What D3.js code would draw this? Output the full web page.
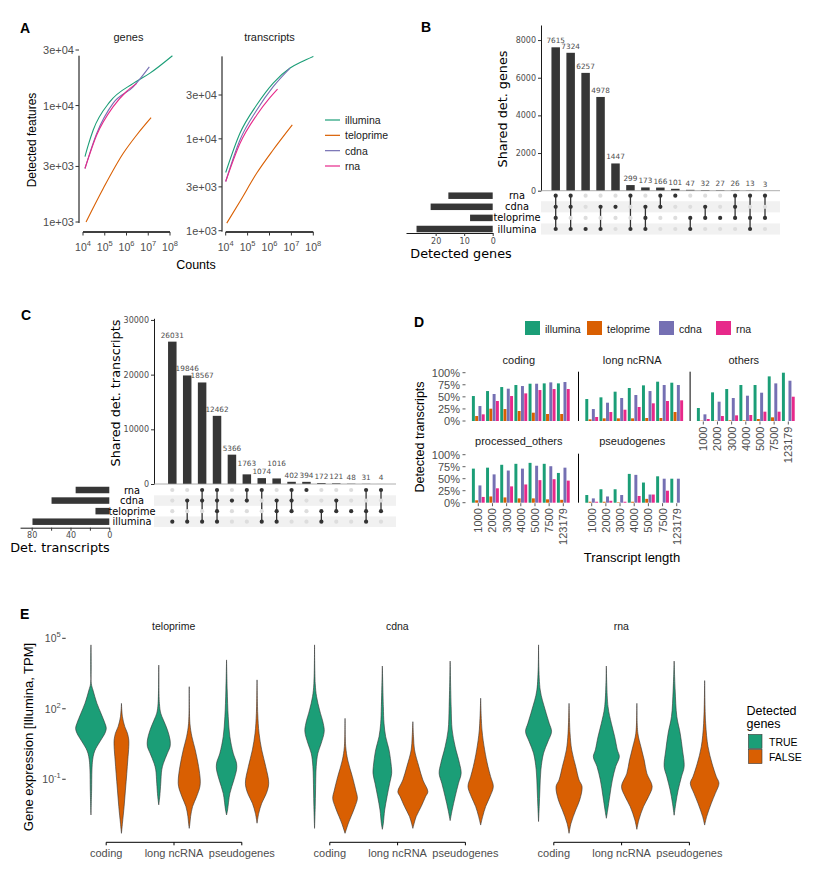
<!DOCTYPE html>
<html><head><meta charset="utf-8">
<script src="https://cdn.jsdelivr.net/npm/d3@7/dist/d3.min.js"></script>
<style>
html,body{margin:0;padding:0;background:#fff;}
svg{display:block;}
</style></head>
<body>
<svg id="fig" width="830" height="871" xmlns="http://www.w3.org/2000/svg"></svg>
<script>
// ================= DATA =================
const seriesNames = ["illumina", "teloprime", "cdna", "rna"];
const seriesColors = ["#1B9E77", "#D95F02", "#7570B3", "#E7298A"];

// Panel A: [counts, detected features]
const genesIllumina = [[1.23e4,3640],[1.74e4,4570],[2.95e4,6170],[1.74e5,10800],[2.04e6,15500],[1.2e7,19000],[1.29e8,26800]];
const genesTeloprime = [[1.38e4,1000],[8.5e4,1940],[7.1e5,3890],[2.95e6,5590],[1.35e7,7870]];
const genesCdna = [[1.23e4,2880],[4.27e4,5770],[2.45e5,10500],[2.04e6,14500],[1.12e7,21500]];
const genesRna = [[1.23e4,2880],[4.27e4,5590],[2.45e5,9800],[1.0e6,13200],[2.95e6,15500]];
const txIllumina = [[1e4,4300],[4.47e4,11500],[2.63e5,23500],[1.48e6,40500],[8.7e6,59000],[2.95e7,69000],[1e8,79000]];
const txTeloprime = [[1.12e4,1210],[4.47e4,2080],[2.63e5,4240],[1.48e6,7600],[1.1e7,14200]];
const txCdna = [[1e4,3430],[4.47e4,9700],[2.63e5,20600],[1.48e6,37000],[8.7e6,59000]];
const txRna = [[1e4,3430],[4.47e4,8900],[2.63e5,18200],[1e6,27700],[2.34e6,34800]];
const aYTicks = [1e3, 3e3, 1e4, 3e4];
const aYTickLabels = ["1e+03", "3e+03", "1e+04", "3e+04"];
const aXTicks = [1e4, 1e5, 1e6, 1e7, 1e8];
const aXTickExp = ["4", "5", "6", "7", "8"];

// Panels B & C: UpSet
const setNames = ["rna", "cdna", "teloprime", "illumina"];
const genesInterCounts = [7615,7324,6257,4978,1447,299,173,166,101,47,32,27,26,13,3];
const genesInterSets = [["rna","cdna","teloprime","illumina"],["rna","cdna","illumina"],["illumina"],["cdna","illumina"],["cdna"],["rna","illumina"],["cdna","teloprime","illumina"],["rna","cdna"],["rna"],["teloprime","illumina"],["cdna","teloprime"],["teloprime"],["rna","cdna","teloprime"],["rna","teloprime","illumina"],["rna","teloprime"]];
const txInterCounts = [26031,19846,18567,12462,5366,1763,1074,1016,402,394,172,121,48,31,4];
const txInterSets = [["illumina"],["cdna","illumina"],["rna","cdna","illumina"],["rna","cdna","teloprime","illumina"],["cdna"],["rna","cdna"],["rna","illumina"],["cdna","teloprime","illumina"],["rna","cdna","teloprime"],["rna"],["teloprime","illumina"],["cdna","teloprime"],["teloprime"],["rna","teloprime","illumina"],["rna","teloprime"]];
const genesYTicks = [0, 2000, 4000, 6000, 8000];
const txYTicks = [0, 10000, 20000, 30000];
const genesSetTicks = [0, 10, 20];
const txSetTicks = [0, 20, 40, 60, 80];
const txSetTickLabels = ["0", "", "40", "", "80"];

// Panel D: % detected transcripts by length bin (illumina, teloprime, cdna, rna)
const lengthBins = ["1000","2000","3000","4000","5000","7500","123179"];
const pctCoding = [[51.7,62,70.3,74.5,77.2,77.9,77.9],[10.3,25.5,24.8,20.7,17.2,14.5,14.5],[31,55.9,66.9,72.4,77.2,80,80.7],[13.8,41.4,51.7,57.2,64.1,66.2,66.2]];
const pctLncRNA = [[45.5,49,60.7,68.3,73.8,81.4,79.3],[3.4,5.5,5.5,5.5,6.2,6.2,18.6],[24.8,37.9,47.6,53.8,62,74.5,74.5],[8.3,18.6,23.4,29,36.6,41.4,42.8]];
const pctOthers = [[26.9,59.3,66.2,74.5,74.5,92.4,100],[0.7,0.7,1.4,1.4,4.1,7.6,0],[13.8,40,47.6,52.4,58.6,77.9,83.4],[4.1,10.3,11.7,12.4,19.3,19.3,50.3]];
const pctProcessed = [[71,73,79,81,83,81,62],[5,13,11,9,9,7,6],[36,59,67,71,77,76,73],[12,30,34,38,47,49,46]];
const pctPseudo = [[16,28,28,60,42,55,50],[2,2,1,2,8,0,0],[9,13,16,58,17,50,50],[2,4,2,14,17,25,0]];
const dYTicks = [0, 25, 50, 75, 100];

// Panel E: violin profiles [log10 TPM, density]; order: coding T/F, long ncRNA T/F, pseudogenes T/F
const eFacets = ["teloprime", "cdna", "rna"];
const eCats = ["coding", "long ncRNA", "pseudogenes"];
const detectedLevels = ["TRUE", "FALSE"];
const detectedColors = ["#1B9E77", "#D95F02"];
const teloViolins = [
  [[4.72,0],[3.08,1],[2.80,6],[2.23,18],[1.81,30],[1.38,42],[1.17,46],[0.96,42],[0.67,30],[0.32,15],[0.11,9],[-0.18,5],[-0.60,3],[-1.46,2],[-2.52,0]],
  [[2.23,0],[1.66,3],[1.24,10],[0.96,18],[0.67,22],[0.39,22],[-0.18,19],[-0.75,16],[-1.46,12],[-2.16,8],[-2.87,3],[-3.30,0]],
  [[3.86,0],[2.23,2],[1.81,6],[1.52,14],[1.10,26],[0.67,34],[0.39,34],[0.11,26],[-0.32,14],[-0.60,9],[-1.17,6],[-1.74,3],[-2.09,0]],
  [[2.94,0],[1.38,2],[0.81,8],[0.25,18],[-0.46,28],[-1.03,33],[-1.31,32],[-1.74,22],[-2.16,10],[-2.59,4],[-2.87,2],[-3.09,0]],
  [[4.08,0],[2.80,2],[1.67,5],[0.81,10],[0.11,20],[-0.32,30],[-0.60,30],[-1.03,22],[-1.60,10],[-2.31,3],[-2.52,0]],
  [[3.23,0],[1.81,2],[0.96,6],[0.25,14],[-0.46,26],[-1.17,35],[-1.60,28],[-2.02,14],[-2.45,5],[-2.87,0]]
];
const cdnaViolins = [
  [[4.72,0],[3.08,2],[2.52,6],[1.95,15],[1.38,26],[1.03,29],[0.53,20],[0.11,10],[-0.46,5],[-1.46,3],[-2.16,2],[-3.09,0]],
  [[1.59,0],[0.39,2],[-0.18,8],[-0.89,22],[-1.46,32],[-1.81,37],[-2.16,30],[-2.59,18],[-2.87,10],[-3.30,0]],
  [[3.82,0],[2.09,3],[1.38,5],[0.81,10],[0.25,20],[-0.46,27],[-0.75,28],[-1.17,22],[-1.74,14],[-2.31,7],[-2.87,3],[-3.13,0]],
  [[1.45,0],[0.81,2],[0.25,5],[-0.46,18],[-1.03,30],[-1.53,45],[-1.74,38],[-2.16,25],[-2.59,10],[-2.87,4],[-3.09,0]],
  [[4.03,0],[2.09,3],[1.10,6],[0.39,15],[-0.32,28],[-0.75,33],[-1.17,25],[-1.74,15],[-2.31,6],[-2.76,0]],
  [[2.45,0],[1.10,4],[0.25,12],[-0.46,22],[-0.89,30],[-1.31,38],[-1.74,28],[-2.16,15],[-2.59,6],[-2.95,0]]
];
const rnaViolins = [
  [[4.72,0],[2.80,5],[1.95,20],[1.38,32],[1.03,39],[0.60,28],[0.11,15],[-0.60,7],[-1.46,4],[-2.16,2],[-2.80,0]],
  [[2.23,0],[0.96,3],[0.25,8],[-0.46,20],[-1.03,30],[-1.31,39],[-1.88,32],[-2.31,20],[-2.87,6],[-3.30,0]],
  [[3.82,0],[2.09,5],[1.38,15],[0.81,25],[0.25,33],[-0.04,39],[-0.46,28],[-1.03,18],[-1.74,10],[-2.31,4],[-2.66,0]],
  [[2.23,0],[0.96,3],[0.39,12],[-0.18,22],[-0.75,30],[-1.31,46],[-1.74,35],[-2.16,20],[-2.73,6],[-3.13,0]],
  [[4.03,0],[2.80,3],[1.67,8],[0.96,18],[0.25,25],[-0.46,30],[-0.89,22],[-1.46,12],[-2.02,5],[-2.53,0]],
  [[3.20,0],[1.38,3],[0.39,10],[-0.32,22],[-0.89,35],[-1.17,43],[-1.60,32],[-2.02,20],[-2.59,6],[-2.95,0]]
];
const eYTicks = [1e5, 1e2, 1e-1];
const eYTickExp = ["5", "2", "-1"];

// ================= DRAWING =================
const svg = d3.select("#fig");
const SANS = "'Liberation Sans', Arial, Helvetica, sans-serif";
const DEJA = "'DejaVu Sans', Verdana, sans-serif";
const GREY = "#4D4D4D";
const color = d3.scaleOrdinal().domain(seriesNames).range(seriesColors);

function txt(g, x, y, s, o = {}) {
  const t = g.append("text").attr("x", x).attr("y", y).text(s)
    .attr("font-family", o.ff || SANS).attr("font-size", o.fs || 11)
    .attr("fill", o.fill || "#000").attr("text-anchor", o.anchor || "start");
  if (o.weight) t.attr("font-weight", o.weight);
  if (o.db) t.attr("dominant-baseline", o.db);
  if (o.rot) t.attr("transform", `rotate(${o.rot},${x},${y})`);
  return t;
}
function line(g, x1, y1, x2, y2, stroke = "#000", w = 1) {
  return g.append("line").attr("x1", x1).attr("y1", y1).attr("x2", x2).attr("y2", y2)
    .attr("stroke", stroke).attr("stroke-width", w);
}

// Panel letters
[["A",20,33],["B",421,32],["C",21,320],["D",414,327],["E",20,619]].forEach(([l,x,y]) =>
  txt(svg, x, y, l, {fs: 14, weight: "bold"}));

// ---------- Panel A ----------
function drawA(cfg) {
  const g = svg.append("g");
  const x = d3.scaleLog().domain([1e4, 1e8]).range(cfg.xr);
  const y = d3.scaleLog().domain([1e3, 3e4]).range(cfg.yr);
  const maxV = d3.max(cfg.series, s => d3.max(s[1], d => d[1]));
  line(g, cfg.yAxisX, y(maxV), cfg.yAxisX, y(1e3) + 1, "#000", 1);
  aYTicks.forEach((v, i) => {
    line(g, cfg.yAxisX - 3.5, y(v), cfg.yAxisX, y(v), "#333", 1);
    txt(g, cfg.yAxisX - 5, y(v), aYTickLabels[i], {fs: 11, fill: GREY, anchor: "end", db: "central"});
  });
  const axY = 232;
  line(g, x(1e4), axY, x(1e8), axY, "#000", 1.6);
  aXTicks.forEach((v, i) => {
    line(g, x(v), axY, x(v), axY + 3.5, "#333", 1);
    const t = txt(g, x(v), axY + 19, "10", {fs: 10.5, fill: GREY, anchor: "middle"});
    t.append("tspan").attr("dy", -5).attr("font-size", 7.5).text(aXTickExp[i]);
  });
  txt(g, cfg.titleX, 40.5, cfg.title, {fs: 11, fill: "#1A1A1A", anchor: "middle"});
  const gen = d3.line().x(d => x(d[0])).y(d => y(d[1])).curve(d3.curveMonotoneX);
  cfg.series.forEach(([name, data]) => {
    g.append("path").attr("d", gen(data)).attr("fill", "none")
      .attr("stroke", color(name)).attr("stroke-width", 1.1);
  });
}
drawA({xr: [83, 170], yr: [222, 50], yAxisX: 79, title: "genes", titleX: 128.5,
  series: [["illumina", genesIllumina], ["teloprime", genesTeloprime], ["cdna", genesCdna], ["rna", genesRna]]});
drawA({xr: [225.7, 313.3], yr: [230.7, 95], yAxisX: 222, title: "transcripts", titleX: 269.5,
  series: [["illumina", txIllumina], ["teloprime", txTeloprime], ["cdna", txCdna], ["rna", txRna]]});
txt(svg, 32, 140, "Detected features", {fs: 12, anchor: "middle", db: "central", rot: -90});
txt(svg, 196, 269, "Counts", {fs: 12.5, anchor: "middle"});
// legend A
const legA = d3.scalePoint().domain(seriesNames).range([120, 166]);
seriesNames.forEach(s => {
  line(svg, 325, legA(s), 340, legA(s), color(s), 1.2);
  txt(svg, 345, legA(s), s, {fs: 10.5, fill: "#1A1A1A", db: "central"});
});

// ---------- Panels B & C (UpSet) ----------
function upset(o) {
  const g = svg.append("g");
  const cx = d3.scalePoint().domain(d3.range(o.counts.length)).range(o.colRange);
  const y = d3.scaleLinear().domain(o.yDomain).range(o.yRange);
  const row = d3.scalePoint().domain(setNames).range(o.rowRange);
  const step = row.step();
  ["cdna", "illumina"].forEach(s => g.append("rect")
    .attr("x", o.matrixX[0]).attr("width", o.matrixX[1] - o.matrixX[0])
    .attr("y", row(s) - step / 2).attr("height", step).attr("fill", "#F1F1F1"));
  // intersection bars
  g.selectAll("rect.bar").data(o.counts).join("rect").attr("class", "bar")
    .attr("x", (d, i) => cx(i) - o.barW / 2).attr("width", o.barW)
    .attr("y", d => y(d)).attr("height", d => y(0) - y(d)).attr("fill", "#363636");
  // value labels, staggered when neighbours collide
  const lfs = 7.3, charW = lfs * 0.636, hgt = 5.2;
  const labs = o.counts.map((d, i) => ({v: d, x: cx(i), y: y(d) - 4, w: String(d).length * charW, moved: false}));
  const hOver = (a, b) => Math.abs(a.x - b.x) < (a.w + b.w) / 2;
  for (let i = 1; i < labs.length; i++) {
    const a = labs[i - 1], b = labs[i];
    if (hOver(a, b) && Math.abs(a.y - b.y) < hgt) {
      const cand = b.y - 8, p2 = labs[i - 2];
      if (!a.moved && !(p2 && hOver(p2, a) && Math.abs(p2.y - cand) < hgt)) { a.y = cand; a.moved = true; }
      else { b.y = a.y - 8; b.moved = true; }
    }
  }
  labs.forEach(l => txt(g, l.x, l.y, l.v, {ff: DEJA, fs: lfs, fill: GREY, anchor: "middle"}));
  // y axis
  const ax = g.append("g").attr("transform", `translate(${o.matrixX[0]},0)`)
    .call(d3.axisLeft(y).tickValues(o.yTicks).tickSize(3).tickSizeOuter(0).tickPadding(2).tickFormat(d3.format("d")));
  ax.select(".domain").attr("stroke", "#000").attr("stroke-width", 0.9);
  ax.selectAll(".tick line").attr("stroke", "#333");
  ax.selectAll("text").attr("font-family", DEJA).attr("font-size", 8).attr("fill", GREY);
  line(g, o.matrixX[0], y(0), o.matrixX[1], y(0), "#9A9A9A", 0.8);
  txt(g, o.yTitle[0], o.yTitle[1], o.yTitle[2], {ff: DEJA, fs: 12.8, anchor: "middle", db: "central", rot: -90});
  // matrix
  o.sets.forEach((mem, i) => {
    const ys = mem.map(s => row(s));
    if (ys.length > 1) line(g, cx(i), d3.min(ys), cx(i), d3.max(ys), "#333", 1.3);
    setNames.forEach(s => g.append("circle").attr("cx", cx(i)).attr("cy", row(s)).attr("r", 2.1)
      .attr("fill", mem.includes(s) ? "#333" : "#DDDDDD"));
  });
  // set sizes (thousands)
  const sizes = setNames.map(s => d3.sum(o.counts.filter((c, i) => o.sets[i].includes(s))) / 1000);
  const sx = d3.scaleLinear().domain(o.setDomain).range(o.setRange);
  setNames.forEach((s, k) => {
    g.append("rect").attr("x", sx(sizes[k])).attr("width", sx(0) - sx(sizes[k]))
      .attr("y", row(s) - 3.25).attr("height", 6.5).attr("fill", "#363636");
    txt(g, o.labelX, row(s), s, {ff: DEJA, fs: 9.8, anchor: "middle", db: "central"});
  });
  const sax = g.append("g").attr("transform", `translate(0,${o.setAxisY})`)
    .call(d3.axisBottom(sx).tickValues(o.setTicks).tickSize(3).tickSizeOuter(0).tickPadding(2)
      .tickFormat((d, i) => o.setTickLabels ? o.setTickLabels[i] : d));
  sax.select(".domain").attr("stroke", "#000").attr("stroke-width", 0.9);
  sax.selectAll(".tick line").attr("stroke", "#333");
  sax.selectAll("text").attr("font-family", DEJA).attr("font-size", 8).attr("fill", GREY);
  txt(g, o.xTitle[0], o.xTitle[1], o.xTitle[2], {ff: DEJA, fs: 12.8, anchor: "middle"});
}
upset({counts: genesInterCounts, sets: genesInterSets, colRange: [555.7, 765], barW: 8.5,
  yDomain: [0, 8800], yRange: [190.7, 25], yTicks: genesYTicks, rowRange: [195.7, 229],
  matrixX: [541, 780], yTitle: [502, 109, "Shared det. genes"],
  setDomain: [0, 30.4], setRange: [492.7, 406], setTicks: genesSetTicks, setAxisY: 233,
  labelX: 517, xTitle: [461, 258, "Detected genes"]});
upset({counts: txInterCounts, sets: txInterSets, colRange: [172.3, 381], barW: 8.5,
  yDomain: [0, 30300], yRange: [484, 318.3], yTicks: txYTicks, rowRange: [490, 521.7],
  matrixX: [154, 396], yTitle: [115, 393, "Shared det. transcripts"],
  setDomain: [0, 92], setRange: [109.3, 20.06], setTicks: txSetTicks, setTickLabels: txSetTickLabels, setAxisY: 527.7,
  labelX: 132, xTitle: [60, 552, "Det. transcripts"]});

// ---------- Panel D ----------
const dStep = 14.17;
const dPanels = [
  {name: "coding", vals: pctCoding, x0: 478.3, row: 0, yAxis: true, xLab: false, vline: false},
  {name: "long ncRNA", vals: pctLncRNA, x0: 591.7, row: 0, yAxis: false, xLab: false, vline: true},
  {name: "others", vals: pctOthers, x0: 703.3, row: 0, yAxis: false, xLab: true, vline: true},
  {name: "processed_others", vals: pctProcessed, x0: 478.3, row: 1, yAxis: true, xLab: true, vline: false},
  {name: "pseudogenes", vals: pctPseudo, x0: 591.7, row: 1, yAxis: false, xLab: true, vline: true}
];
const dRowRange = [[421, 372.7], [502.7, 454.7]];
const dTitleY = [364, 445];
const inner = d3.scaleBand().domain(seriesNames).range([-6.4, 6.4]).paddingInner(0.1);
dPanels.forEach(p => {
  const g = svg.append("g");
  const xb = d3.scaleBand().domain(lengthBins).range([p.x0 - dStep / 2, p.x0 - dStep / 2 + 7 * dStep]);
  const y = d3.scaleLinear().domain([0, 100]).range(dRowRange[p.row]);
  seriesNames.forEach((s, si) => {
    p.vals[si].forEach((v, bi) => {
      if (v <= 0) return;
      g.append("rect").attr("x", xb(lengthBins[bi]) + dStep / 2 + inner(s)).attr("width", inner.bandwidth())
        .attr("y", y(v)).attr("height", y(0) - y(v)).attr("fill", color(s));
    });
  });
  if (p.vline) line(g, p.x0 - 13.2, y(100) - 1, p.x0 - 13.2, y(0), "#000", 1);
  if (p.yAxis) dYTicks.forEach(t => {
    line(g, 462.5, y(t), 465.5, y(t), "#333", 0.8);
    txt(g, 460, y(t), t + "%", {fs: 11, fill: GREY, anchor: "end", db: "central"});
  });
  if (p.xLab) lengthBins.forEach(b => {
    const xx = xb(b) + dStep / 2;
    line(g, xx, y(0) + 0.5, xx, y(0) + 3.5, "#333", 0.8);
    txt(g, xx, y(0) + 5.5, b, {fs: 11, fill: GREY, anchor: "end", db: "central", rot: -90});
  });
  txt(g, p.x0 + 40.5, dTitleY[p.row], p.name, {fs: 11, fill: "#1A1A1A", anchor: "middle"});
});
txt(svg, 420, 437, "Detected transcripts", {fs: 12.5, anchor: "middle", db: "central", rot: -90});
txt(svg, 632, 562, "Transcript length", {fs: 13, anchor: "middle"});
const legDX = [525, 587, 659, 716];
seriesNames.forEach((s, i) => {
  svg.append("rect").attr("x", legDX[i]).attr("y", 321).attr("width", 15).attr("height", 14).attr("fill", color(s));
  txt(svg, legDX[i] + 20, 328.5, s, {fs: 10.5, fill: "#1A1A1A", db: "central"});
});

// ---------- Panel E ----------
const eY = d3.scaleLog().domain([Math.pow(10, -3.3), Math.pow(10, 4.715)]).range([833.3, 645]);
const eW = d3.scaleLinear().domain([0, 46.5]).range([0, 15.5]);
const ePanelX = [65.7, 289.3, 513.3];
const eAll = [teloViolins, cdnaViolins, rnaViolins];
const allLogs = eAll.flat(2).filter((d, i) => i % 2 === 0);
const eMax = Math.pow(10, d3.max(allLogs)), eMin = Math.pow(10, d3.min(allLogs));
eFacets.forEach((f, fi) => {
  const g = svg.append("g");
  const x0 = ePanelX[fi];
  const xc = d3.scalePoint().domain(eCats).range([x0 + 40.5, x0 + 40.5 + 2 * 67.8]);
  const dodge = d3.scalePoint().domain(detectedLevels).range([-15.25, 15.25]);
  line(g, x0, eY(eMax), x0, eY(eMin), "#000", 1);
  eAll[fi].forEach((prof, k) => {
    const cat = eCats[Math.floor(k / 2)], det = detectedLevels[k % 2];
    const cx = xc(cat) + dodge(det);
    const area = d3.area().curve(d3.curveCatmullRom)
      .y(d => eY(Math.pow(10, d[0]))).x0(d => cx - eW(d[1])).x1(d => cx + eW(d[1]));
    g.append("path").attr("d", area(prof)).attr("fill", detectedColors[k % 2])
      .attr("stroke", "#333").attr("stroke-width", 0.6);
  });
  const axY = 842.3;
  line(g, xc(eCats[0]), axY, xc(eCats[2]), axY, "#000", 1);
  eCats.forEach(c => {
    line(g, xc(c), axY, xc(c), axY + 3, "#000", 1);
    txt(g, xc(c), 856.5, c, {fs: 11, fill: GREY, anchor: "middle"});
  });
  txt(g, x0 + 108, 629.5, f, {fs: 10.5, fill: "#1A1A1A", anchor: "middle"});
  if (fi === 0) eYTicks.forEach((v, i) => {
    line(g, x0 - 3.5, eY(v), x0, eY(v), "#333", 1);
    const t = txt(g, x0 - 5, eY(v) + 4, "10", {fs: 10.5, fill: GREY, anchor: "end"});
    t.append("tspan").attr("dy", -5).attr("font-size", 7.5).text(eYTickExp[i]);
  });
});
txt(svg, 28, 737, "Gene expression [Illumina, TPM]", {fs: 13, anchor: "middle", db: "central", rot: -90});
txt(svg, 746.5, 715, "Detected", {fs: 12.5});
txt(svg, 746.5, 728, "genes", {fs: 12.5});
detectedLevels.forEach((d, i) => {
  svg.append("rect").attr("x", 748.5).attr("y", 734.5 + i * 15).attr("width", 13.5).attr("height", 14)
    .attr("fill", detectedColors[i]).attr("stroke", "#333").attr("stroke-width", 0.6);
  txt(svg, 769, 741.5 + i * 15, d, {fs: 10.5, db: "central"});
});
</script>
</body></html>
